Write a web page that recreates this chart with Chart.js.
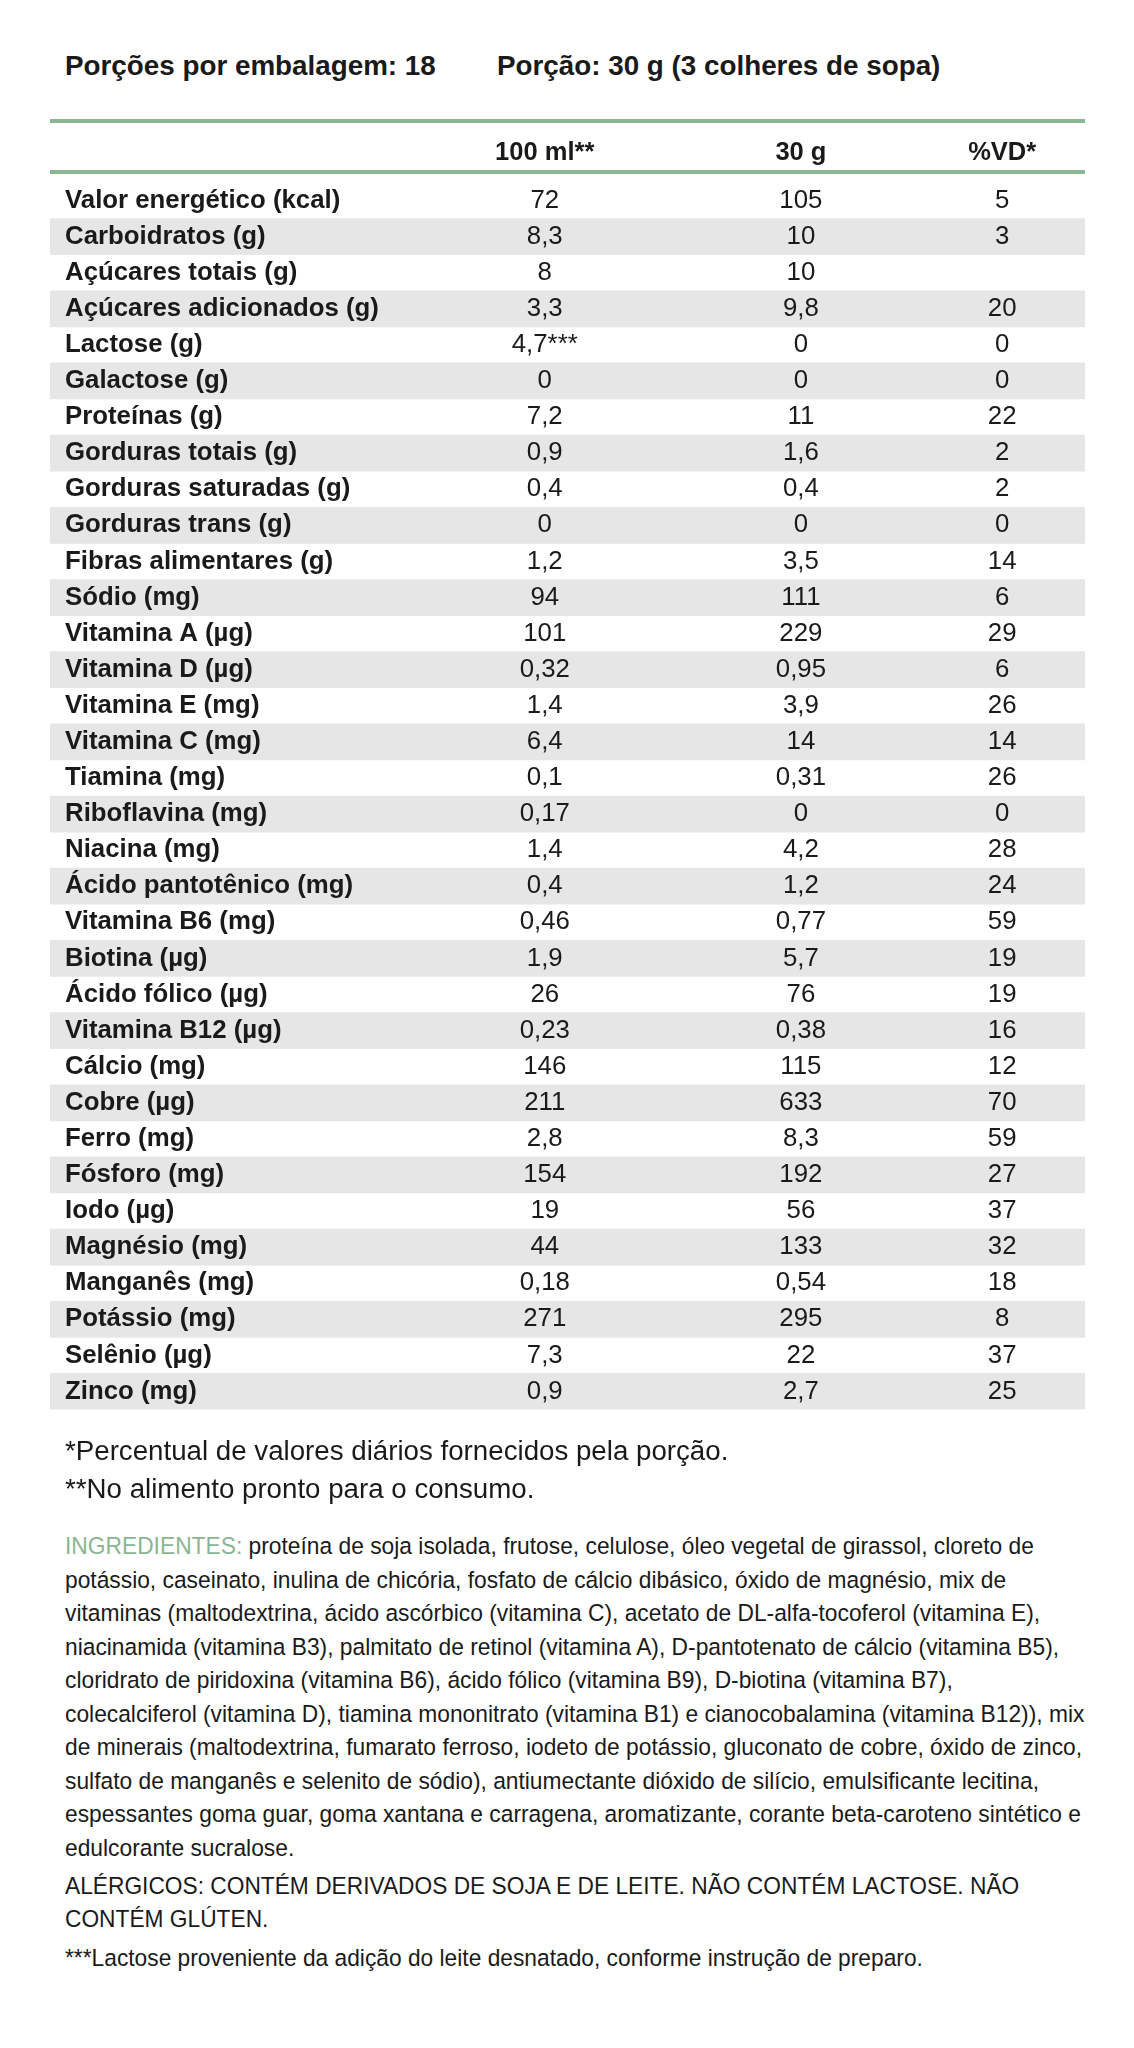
<!DOCTYPE html>
<html lang="pt-BR">
<head>
<meta charset="utf-8">
<title>Tabela nutricional</title>
<script src="https://cdn.jsdelivr.net/npm/chart.js@4.4.1/dist/chart.umd.min.js"></script>
<style>
  html, body { margin: 0; padding: 0; background: #ffffff; }
  body { width: 1134px; height: 2048px; position: relative; overflow: hidden;
         font-family: "Liberation Sans", Arial, sans-serif; color: #1a1a1a; }
  .hdr { position: absolute; top: 49px; font-size: 27.8px; font-weight: bold; line-height: 34px; white-space: nowrap; }
  #chartBox { position: absolute; left: 0; top: 100px; width: 1134px; height: 1340px; }
  .foot { position: absolute; left: 65px; white-space: nowrap; transform-origin: 0 0; }
  #notes { top: 1432px; font-size: 27.7px; line-height: 38px; }
  #ingr { top: 1529px; font-size: 24.5px; line-height: 33.55px; transform: scaleX(0.93); }
  #allerg { top: 1869px; font-size: 24.5px; line-height: 33px; transform: scaleX(0.928); }
  #lact { top: 1941px; font-size: 24.5px; line-height: 34px; transform: scaleX(0.929); }
  .green { color: #8ab592; }
</style>
</head>
<body>
<div class="hdr" style="left:65px">Porções por embalagem: 18</div>
<div class="hdr" style="left:497px">Porção: 30 g (3 colheres de sopa)</div>

<div id="chartBox"><canvas id="c" width="1134" height="1340" style="width:1134px;height:1340px"></canvas></div>

<div class="foot" id="notes">*Percentual de valores diários fornecidos pela porção.<br>**No alimento pronto para o consumo.</div>
<div class="foot" id="ingr"><span class="green">INGREDIENTES:</span> proteína de soja isolada, frutose, celulose, óleo vegetal de girassol, cloreto de<br>potássio, caseinato, inulina de chicória, fosfato de cálcio dibásico, óxido de magnésio, mix de<br>vitaminas (maltodextrina, ácido ascórbico (vitamina C), acetato de DL-alfa-tocoferol (vitamina E),<br>niacinamida (vitamina B3), palmitato de retinol (vitamina A), D-pantotenato de cálcio (vitamina B5),<br>cloridrato de piridoxina (vitamina B6), ácido fólico (vitamina B9), D-biotina (vitamina B7),<br>colecalciferol (vitamina D), tiamina mononitrato (vitamina B1) e cianocobalamina (vitamina B12)), mix<br>de minerais (maltodextrina, fumarato ferroso, iodeto de potássio, gluconato de cobre, óxido de zinco,<br>sulfato de manganês e selenito de sódio), antiumectante dióxido de silício, emulsificante lecitina,<br>espessantes goma guar, goma xantana e carragena, aromatizante, corante beta-caroteno sintético e<br>edulcorante sucralose.</div>
<div class="foot" id="allerg">ALÉRGICOS: CONTÉM DERIVADOS DE SOJA E DE LEITE. NÃO CONTÉM LACTOSE. NÃO<br>CONTÉM GLÚTEN.</div>
<div class="foot" id="lact">***Lactose proveniente da adição do leite desnatado, conforme instrução de preparo.</div>

<script>
// ---- data ----
const nutrients = [
  'Valor energético (kcal)', 'Carboidratos (g)', 'Açúcares totais (g)', 'Açúcares adicionados (g)',
  'Lactose (g)', 'Galactose (g)', 'Proteínas (g)', 'Gorduras totais (g)', 'Gorduras saturadas (g)',
  'Gorduras trans (g)', 'Fibras alimentares (g)', 'Sódio (mg)', 'Vitamina A (µg)', 'Vitamina D (µg)',
  'Vitamina E (mg)', 'Vitamina C (mg)', 'Tiamina (mg)', 'Riboflavina (mg)', 'Niacina (mg)',
  'Ácido pantotênico (mg)', 'Vitamina B6 (mg)', 'Biotina (µg)', 'Ácido fólico (µg)', 'Vitamina B12 (µg)',
  'Cálcio (mg)', 'Cobre (µg)', 'Ferro (mg)', 'Fósforo (mg)', 'Iodo (µg)', 'Magnésio (mg)',
  'Manganês (mg)', 'Potássio (mg)', 'Selênio (µg)', 'Zinco (mg)'
];
const per100ml = ['72','8,3','8','3,3','4,7***','0','7,2','0,9','0,4','0','1,2','94','101','0,32','1,4','6,4','0,1','0,17','1,4','0,4','0,46','1,9','26','0,23','146','211','2,8','154','19','44','0,18','271','7,3','0,9'];
const per30g   = ['105','10','10','9,8','0','0','11','1,6','0,4','0','3,5','111','229','0,95','3,9','14','0,31','0','4,2','1,2','0,77','5,7','76','0,38','115','633','8,3','192','56','133','0,54','295','22','2,7'];
const pctVD    = ['5','3','','20','0','0','22','2','2','0','14','6','29','6','26','14','26','0','28','24','59','19','19','16','12','70','59','27','37','32','18','8','37','25'];
const columnHeaders = ['100 ml**', '30 g', '%VD*'];
</script>
<script>
// ---- layout / style ----
const FONT = '"Liberation Sans", Arial, sans-serif';
const TEXT = '#1a1a1a';
const GREEN = '#8cb794';
const BAND = '#e6e6e6';
const X_MIN = 0, X_MAX = 100;
const colPos = [47.8, 72.55, 92.0];     // column centres on the x scale
const valueColumns = [per100ml, per30g, pctVD];

const bands = nutrients.map((_, i) => (i % 2 === 1 ? [X_MIN, X_MAX] : null));

const tablePlugin = {
  id: 'tableText',
  afterDraw(chart) {
    const { ctx, chartArea, scales: { x, y } } = chart;
    ctx.save();
    ctx.strokeStyle = GREEN;
    ctx.lineWidth = 4;
    [chartArea.top - 61.5, chartArea.top - 10.5].forEach(yy => {
      ctx.beginPath();
      ctx.moveTo(chartArea.left, yy);
      ctx.lineTo(chartArea.right, yy);
      ctx.stroke();
    });
    ctx.fillStyle = TEXT;
    ctx.font = '25.8px ' + FONT;
    ctx.textAlign = 'center';
    ctx.textBaseline = 'middle';
    valueColumns.forEach((col, j) => {
      const px = x.getPixelForValue(colPos[j]);
      col.forEach((v, i) => { if (v) ctx.fillText(v, px, y.getPixelForValue(i)); });
    });
    ctx.restore();
  }
};

new Chart(document.getElementById('c'), {
  type: 'bar',
  data: {
    labels: nutrients,
    datasets: [{
      data: bands,
      backgroundColor: BAND,
      borderWidth: 0,
      barPercentage: 1,
      categoryPercentage: 1
    }]
  },
  options: {
    indexAxis: 'y',
    responsive: false,
    animation: false,
    devicePixelRatio: 1,
    layout: { padding: { top: 18, left: 50, right: 49, bottom: 15 } },
    plugins: { legend: { display: false }, tooltip: { enabled: false }, title: { display: false } },
    scales: {
      x: {
        type: 'linear', position: 'top', min: X_MIN, max: X_MAX,
        grid: { display: false, drawTicks: false },
        border: { display: false },
        afterBuildTicks: s => { s.ticks = colPos.map(v => ({ value: v })); },
        afterFit: s => { s.height = 64.5; },
        ticks: {
          autoSkip: false, maxRotation: 0, padding: 14, color: TEXT,
          font: { family: FONT, size: 25.5, weight: 'bold' },
          callback: (v, i) => columnHeaders[i]
        }
      },
      y: {
        type: 'category', position: 'left',
        grid: { display: false, drawTicks: false },
        border: { display: false },
        afterFit: s => { s.width = 0; },
        ticks: {
          z: 1, mirror: true, crossAlign: 'near', padding: 15, autoSkip: false, color: TEXT,
          font: { family: FONT, size: 25.8, weight: 'bold' }
        }
      }
    }
  },
  plugins: [tablePlugin]
});
</script>
</body>
</html>
